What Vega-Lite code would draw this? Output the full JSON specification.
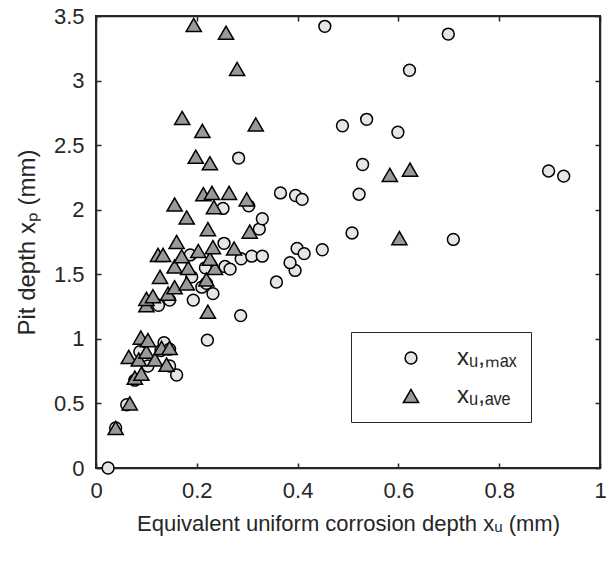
{
  "$schema": "https://vega.github.io/schema/vega-lite/v6.json",
  "width": 504,
  "height": 452,
  "autosize": {"type": "none"},
  "padding": {"left": 96, "top": 16, "right": 8, "bottom": 93},
  "background": "white",
  "config": {
    "font": "Liberation Sans",
    "view": {"stroke": null},
    "axis": {"grid": false}
  },
  "data": {"values": [
      {"xu": 0.024, "xp": 0.00, "series": "max"},
      {"xu": 0.039, "xp": 0.31, "series": "max"},
      {"xu": 0.061, "xp": 0.49, "series": "max"},
      {"xu": 0.077, "xp": 0.68, "series": "max"},
      {"xu": 0.087, "xp": 0.90, "series": "max"},
      {"xu": 0.103, "xp": 0.79, "series": "max"},
      {"xu": 0.129, "xp": 0.91, "series": "max"},
      {"xu": 0.135, "xp": 0.97, "series": "max"},
      {"xu": 0.146, "xp": 0.92, "series": "max"},
      {"xu": 0.146, "xp": 0.79, "series": "max"},
      {"xu": 0.160, "xp": 0.72, "series": "max"},
      {"xu": 0.124, "xp": 1.26, "series": "max"},
      {"xu": 0.146, "xp": 1.30, "series": "max"},
      {"xu": 0.193, "xp": 1.30, "series": "max"},
      {"xu": 0.210, "xp": 1.40, "series": "max"},
      {"xu": 0.232, "xp": 1.35, "series": "max"},
      {"xu": 0.219, "xp": 1.43, "series": "max"},
      {"xu": 0.190, "xp": 1.48, "series": "max"},
      {"xu": 0.187, "xp": 1.65, "series": "max"},
      {"xu": 0.217, "xp": 1.55, "series": "max"},
      {"xu": 0.256, "xp": 1.56, "series": "max"},
      {"xu": 0.254, "xp": 1.74, "series": "max"},
      {"xu": 0.266, "xp": 1.54, "series": "max"},
      {"xu": 0.288, "xp": 1.62, "series": "max"},
      {"xu": 0.309, "xp": 1.64, "series": "max"},
      {"xu": 0.330, "xp": 1.64, "series": "max"},
      {"xu": 0.221, "xp": 0.99, "series": "max"},
      {"xu": 0.287, "xp": 1.18, "series": "max"},
      {"xu": 0.358, "xp": 1.44, "series": "max"},
      {"xu": 0.395, "xp": 1.53, "series": "max"},
      {"xu": 0.385, "xp": 1.59, "series": "max"},
      {"xu": 0.399, "xp": 1.70, "series": "max"},
      {"xu": 0.413, "xp": 1.66, "series": "max"},
      {"xu": 0.449, "xp": 1.69, "series": "max"},
      {"xu": 0.324, "xp": 1.85, "series": "max"},
      {"xu": 0.330, "xp": 1.93, "series": "max"},
      {"xu": 0.252, "xp": 2.01, "series": "max"},
      {"xu": 0.303, "xp": 2.03, "series": "max"},
      {"xu": 0.283, "xp": 2.40, "series": "max"},
      {"xu": 0.366, "xp": 2.13, "series": "max"},
      {"xu": 0.396, "xp": 2.11, "series": "max"},
      {"xu": 0.409, "xp": 2.08, "series": "max"},
      {"xu": 0.454, "xp": 3.42, "series": "max"},
      {"xu": 0.489, "xp": 2.65, "series": "max"},
      {"xu": 0.537, "xp": 2.70, "series": "max"},
      {"xu": 0.599, "xp": 2.60, "series": "max"},
      {"xu": 0.529, "xp": 2.35, "series": "max"},
      {"xu": 0.522, "xp": 2.12, "series": "max"},
      {"xu": 0.508, "xp": 1.82, "series": "max"},
      {"xu": 0.622, "xp": 3.08, "series": "max"},
      {"xu": 0.699, "xp": 3.36, "series": "max"},
      {"xu": 0.709, "xp": 1.77, "series": "max"},
      {"xu": 0.898, "xp": 2.30, "series": "max"},
      {"xu": 0.928, "xp": 2.26, "series": "max"},
      {"xu": 0.039, "xp": 0.31, "series": "ave"},
      {"xu": 0.067, "xp": 0.50, "series": "ave"},
      {"xu": 0.077, "xp": 0.70, "series": "ave"},
      {"xu": 0.090, "xp": 0.73, "series": "ave"},
      {"xu": 0.065, "xp": 0.86, "series": "ave"},
      {"xu": 0.085, "xp": 0.84, "series": "ave"},
      {"xu": 0.100, "xp": 0.90, "series": "ave"},
      {"xu": 0.117, "xp": 0.84, "series": "ave"},
      {"xu": 0.130, "xp": 0.93, "series": "ave"},
      {"xu": 0.146, "xp": 0.93, "series": "ave"},
      {"xu": 0.140, "xp": 0.80, "series": "ave"},
      {"xu": 0.089, "xp": 1.01, "series": "ave"},
      {"xu": 0.103, "xp": 0.99, "series": "ave"},
      {"xu": 0.100, "xp": 1.26, "series": "ave"},
      {"xu": 0.100, "xp": 1.31, "series": "ave"},
      {"xu": 0.113, "xp": 1.33, "series": "ave"},
      {"xu": 0.143, "xp": 1.35, "series": "ave"},
      {"xu": 0.156, "xp": 1.40, "series": "ave"},
      {"xu": 0.180, "xp": 1.43, "series": "ave"},
      {"xu": 0.219, "xp": 1.46, "series": "ave"},
      {"xu": 0.127, "xp": 1.48, "series": "ave"},
      {"xu": 0.156, "xp": 1.56, "series": "ave"},
      {"xu": 0.183, "xp": 1.55, "series": "ave"},
      {"xu": 0.236, "xp": 1.55, "series": "ave"},
      {"xu": 0.226, "xp": 1.62, "series": "ave"},
      {"xu": 0.123, "xp": 1.65, "series": "ave"},
      {"xu": 0.133, "xp": 1.65, "series": "ave"},
      {"xu": 0.170, "xp": 1.64, "series": "ave"},
      {"xu": 0.203, "xp": 1.68, "series": "ave"},
      {"xu": 0.232, "xp": 1.71, "series": "ave"},
      {"xu": 0.274, "xp": 1.70, "series": "ave"},
      {"xu": 0.160, "xp": 1.75, "series": "ave"},
      {"xu": 0.222, "xp": 1.21, "series": "ave"},
      {"xu": 0.180, "xp": 1.94, "series": "ave"},
      {"xu": 0.222, "xp": 1.85, "series": "ave"},
      {"xu": 0.305, "xp": 1.83, "series": "ave"},
      {"xu": 0.156, "xp": 2.04, "series": "ave"},
      {"xu": 0.234, "xp": 2.02, "series": "ave"},
      {"xu": 0.213, "xp": 2.12, "series": "ave"},
      {"xu": 0.230, "xp": 2.13, "series": "ave"},
      {"xu": 0.264, "xp": 2.13, "series": "ave"},
      {"xu": 0.299, "xp": 2.08, "series": "ave"},
      {"xu": 0.198, "xp": 2.41, "series": "ave"},
      {"xu": 0.226, "xp": 2.36, "series": "ave"},
      {"xu": 0.171, "xp": 2.71, "series": "ave"},
      {"xu": 0.211, "xp": 2.61, "series": "ave"},
      {"xu": 0.317, "xp": 2.66, "series": "ave"},
      {"xu": 0.280, "xp": 3.09, "series": "ave"},
      {"xu": 0.258, "xp": 3.37, "series": "ave"},
      {"xu": 0.194, "xp": 3.43, "series": "ave"},
      {"xu": 0.583, "xp": 2.27, "series": "ave"},
      {"xu": 0.623, "xp": 2.31, "series": "ave"},
      {"xu": 0.602, "xp": 1.78, "series": "ave"}
  ]},
  "layer": [
    {
      "mark": {"type": "rect", "fill": "white", "fillOpacity": 0, "stroke": "#262626", "strokeWidth": 1.5},
      "encoding": {
        "x": {"datum": 0, "type": "quantitative", "scale": {"domain": [0, 1], "nice": false, "zero": false}, "axis": null},
        "x2": {"datum": 1},
        "y": {"datum": 0, "type": "quantitative", "scale": {"domain": [0, 3.5], "nice": false, "zero": false}, "axis": null},
        "y2": {"datum": 3.5}
      }
    },
    {
      "mark": {"type": "point", "opacity": 0},
      "encoding": {
        "x": {"field": "xu", "type": "quantitative",
              "scale": {"domain": [0, 1], "nice": false, "zero": false},
              "axis": {"orient": "top", "tickCount": 5, "tickSize": -5, "tickWidth": 1.5, "tickColor": "#262626",
                       "domainColor": "#262626", "domainWidth": 1.5,
                       "labelExpr": "''", "labelPadding": 0, "title": ""}},
        "y": {"field": "xp", "type": "quantitative",
              "scale": {"domain": [0, 3.5], "nice": false, "zero": false},
              "axis": {"orient": "right", "tickCount": 7, "tickSize": -5, "tickWidth": 1.5, "tickColor": "#262626",
                       "domainColor": "#262626", "domainWidth": 1.5,
                       "labelExpr": "''", "labelPadding": 0, "title": ""}}
      }
    },
    {
      "mark": {"type": "point", "filled": true, "stroke": "black", "strokeWidth": 1.5, "opacity": 1},
      "encoding": {
        "x": {
          "field": "xu", "type": "quantitative",
          "scale": {"domain": [0, 1], "nice": false, "zero": false},
          "axis": {"orient": "bottom", "tickCount": 5, "format": "~g", "tickSize": -5, "tickWidth": 1.5, "tickColor": "#262626",
                   "domainColor": "#262626", "domainWidth": 1.5,
                   "labelPadding": 17, "labelFlush": false, "labelFontSize": 22, "labelColor": "#262626",
                   "title": "Equivalent uniform corrosion depth xᵤ (mm)", "titlePadding": 12,
                   "titleFontSize": 22, "titleFontWeight": "normal", "titleColor": "#262626"}
        },
        "y": {
          "field": "xp", "type": "quantitative",
          "scale": {"domain": [0, 3.5], "nice": false, "zero": false},
          "axis": {"orient": "left", "tickCount": 7, "format": "~g", "tickSize": -5, "tickWidth": 1.5, "tickColor": "#262626",
                   "domainColor": "#262626", "domainWidth": 1.5,
                   "labelPadding": 17, "labelFlush": false, "labelFontSize": 22, "labelColor": "#262626",
                   "title": "Pit depth  xₚ (mm)", "titlePadding": 14,
                   "titleFontSize": 24, "titleFontWeight": "normal", "titleColor": "#262626"}
        },
        "size": {
          "field": "series", "type": "nominal",
          "scale": {"domain": ["max", "ave"], "range": [140, 230]}
        },
        "shape": {
          "field": "series", "type": "nominal",
          "scale": {"domain": ["max", "ave"], "range": ["circle", "triangle-up"]},
          "legend": {
            "title": null,
            "orient": "none",
            "legendX": 255,
            "legendY": 316,
            "direction": "vertical",
            "strokeColor": "#262626",
            "fillColor": "white",
            "padding": 14,
            "symbolOffset": 34,
            "symbolStrokeColor": "black",
            "symbolStrokeWidth": 1.5,
            "labelOffset": 34,
            "labelFontSize": 24,
            "labelColor": "#262626",
            "rowPadding": 14,
            "labelExpr": "datum.value == 'max' ? 'xᵤ,ₘₐₓ' : 'xᵤ,ₐᵥₑ'"
          }
        },
        "fill": {
          "field": "series", "type": "nominal",
          "scale": {"domain": ["max", "ave"], "range": ["#e6e6e6", "#999999"]}
        }
      }
    }
  ],
  "resolve": {"scale": {"x": "independent", "y": "independent"}}
}
